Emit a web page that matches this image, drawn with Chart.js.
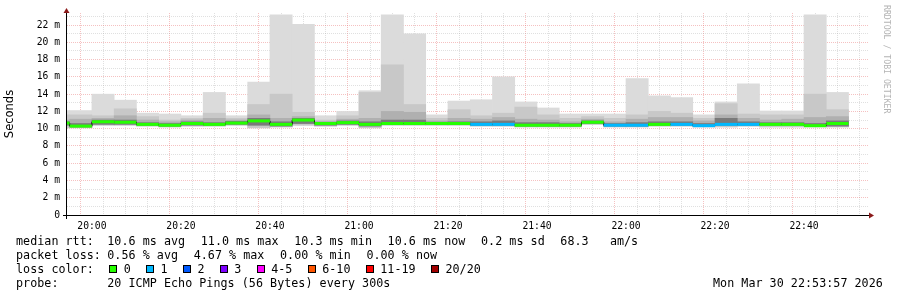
<!DOCTYPE html>
<html>
<head>
<meta charset="utf-8">
<script src="https://cdn.jsdelivr.net/npm/chart.js@4.4.1/dist/chart.umd.min.js"></script>
<style>
html, body { margin: 0; padding: 0; background: #fff; }
#wrap { position: relative; width: 897px; height: 297px; overflow: hidden; }
#c { position: absolute; left: 0; top: 0; }
.txt { position: absolute; font-family: "DejaVu Sans Mono", monospace; font-size: 11.7px; line-height: 14px; color: #000; letter-spacing: 0.04px; }
.txt span, .row { white-space: pre; }
#legend { left: 16px; top: 234px; width: 870px; }
#legend .row { position: relative; height: 14px; }
#legend .lab { position: absolute; left: 0; top: 0; }
#legend .vals { position: absolute; left: 91.3px; top: 0; }
#legend .vals span { margin-right: 15.6px; }
#stamp { left: 713px; top: 276px; white-space: pre; }
#mark { position: absolute; left: 882px; top: 5px; writing-mode: vertical-rl; font-family: "DejaVu Sans Mono", monospace; font-size: 8.2px; color: #b4b4b4; white-space: pre; }
.sw { display: inline-block; width: 8px; height: 8px; box-sizing: border-box; border: 1px solid #000; vertical-align: top; margin: 3px 6.6px 0 15.2px; }
</style>
</head>
<body>
<div id="wrap">
  <canvas id="c" width="897" height="297"></canvas>
  <div id="mark">RRDTOOL / TOBI OETIKER</div>
  <div id="legend" class="txt">
    <div class="row"><span class="lab">median rtt:</span><span class="vals"><span>10.6 ms avg</span><span>11.0 ms max</span><span>10.3 ms min</span><span>10.6 ms now</span><span>0.2 ms sd</span><span>68.3   am/s</span></span></div>
    <div class="row"><span class="lab">packet loss:</span><span class="vals"><span>0.56 % avg</span><span>4.67 % max</span><span>0.00 % min</span><span>0.00 % now</span></span></div>
    <div class="row" id="lossrow">loss color:</div>
    <div class="row"><span class="lab">probe:</span><span class="vals">20 ICMP Echo Pings (56 Bytes) every 300s</span></div>
  </div>
  <div id="stamp" class="txt">Mon Mar 30 22:53:57 2026</div>
</div>
<script>
// 5 minute slots (start time of each step)
const slotStart = ['19:50','19:55','20:00','20:05','20:10','20:15','20:20','20:25','20:30','20:35',
                   '20:40','20:45','20:50','20:55','21:00','21:05','21:10','21:15','21:20','21:25',
                   '21:30','21:35','21:40','21:45','21:50','21:55','22:00','22:05','22:10','22:15',
                   '22:20','22:25','22:30','22:35','22:40','22:45'];

// smoke (ms): outer max, upper layers, core, median, lower layers, min
const rttMax    = [12.1,12.1,14.0,13.3,11.8,11.7,11.5,14.2,11.5,15.4, 23.2,22.1,11.5,12.0,14.4,23.2,21.0,11.6,13.2,13.35,
                   16.0,13.1,12.4,11.7,11.7,11.7,15.8,13.8,13.6,11.6, 13.1,15.2,12.05,12.05,23.2,14.2];
const smokeHi2  = [11.6,11.6,11.5,12.3,11.4,11.0,11.2,11.8,11.2,12.8, 14.0,11.9,11.0,11.5,14.2,17.4,12.8,11.2,12.2,11.5,
                   11.8,12.5,11.6,11.2,11.4,11.2,11.6,12.0,11.8,11.2, 12.9,11.7,11.6,11.6,14.0,12.2];
const smokeHi3  = [11.0,11.1,11.2,11.5,11.0,10.8,11.0,11.2,11.0,11.6, 11.2,11.4,10.8,11.1,11.2,12.0,11.9,10.9,11.2,11.1,
                   11.3,11.1,11.0,10.8,11.1,10.8,11.1,11.3,11.3,10.9, 11.6,11.2,11.0,11.1,11.3,11.4];
const smokeCore = [10.8,10.6,11.0,11.0,10.7,10.6,10.8,10.7,10.85,11.2, 10.8,11.2,10.75,10.9,10.8,11.0,11.0,10.75,10.8,10.8,
                   10.9,10.7,10.7,10.6,10.9,10.6,10.7,10.8,10.8,10.6, 11.2,10.8,10.7,10.7,10.6,10.9];
const rttMedian = [10.65,10.3,10.8,10.75,10.5,10.4,10.6,10.5,10.65,10.9, 10.5,11.0,10.6,10.7,10.5,10.6,10.6,10.6,10.6,10.5,
                   10.5,10.4,10.4,10.4,10.75,10.4,10.4,10.5,10.5,10.35, 10.5,10.5,10.5,10.5,10.35,10.6];
const smokeLo   = [10.4,10.2,10.5,10.5,10.4,10.3,10.4,10.4,10.5,10.4, 10.3,10.6,10.4,10.5,10.3,10.5,10.5,10.5,10.5,10.4,
                   10.4,10.3,10.3,10.3,10.6,10.3,10.3,10.4,10.4,10.3, 10.4,10.4,10.4,10.4,10.3,10.3];
const rttMin    = [10.1,10.1,10.4,10.4,10.3,10.2,10.3,10.3,10.4,10.1, 10.2,10.4,10.3,10.4,10.1,10.4,10.4,10.4,10.4,10.3,
                   10.3,10.2,10.2,10.2,10.5,10.2,10.2,10.3,10.3,10.2, 10.2,10.3,10.2,10.2,10.2,10.2];
// index into lossLabels / lossColors
const lossBin   = [0,0,0,0,0,0,0,0,0,0, 0,0,0,0,0,0,0,0,0,1, 1,0,0,0,0,1,1,0,1,1, 1,1,0,0,0,0];

const lossLabels = ['0','1','2','3','4-5','6-10','11-19','20/20'];
const lossColors = ['#26ff00','#00b8ff','#0059ff','#7e00ff','#ff00ff','#ff5500','#ff0000','#a10000'];

const timeTicks = ['20:00','20:20','20:40','21:00','21:20','21:40','22:00','22:20','22:40'];
const yTickVals = [0,2,4,6,8,10,12,14,16,18,20,22];
const yTickLabels = ['0','2 m','4 m','6 m','8 m','10 m','12 m','14 m','16 m','18 m','20 m','22 m'];

const STEP = 5;
const X_MIN = -5.6, X_MAX = 174.6;   // minutes from 20:00
const Y_MAX = 23.4;
const MAJOR = 'rgba(230,100,100,0.4)';
const MINOR = 'rgba(160,160,160,0.32)';
const MONO = 'DejaVu Sans Mono';

function toMin(t) { const [h, m] = t.split(':').map(Number); return (h - 20) * 60 + m; }
const slotMid = slotStart.map(t => toMin(t) + STEP / 2);
const xGrid = slotStart.map(toMin).concat([toMin(slotStart[slotStart.length - 1]) + STEP])
  .filter(v => v >= X_MIN && v <= X_MAX);
const yGrid = Array.from({ length: 24 }, (_, i) => i);

// legend swatches
const row = document.getElementById('lossrow');
lossLabels.forEach((l, i) => {
  const s = document.createElement('span');
  s.className = 'sw';
  s.style.background = lossColors[i];
  if (i === 0) s.style.marginLeft = '15.3px';
  row.appendChild(s);
  row.appendChild(document.createTextNode(l));
});

function layer(lo, hi, color, order) {
  return {
    type: 'bar', data: slotMid.map((x, i) => ({ x, y: [lo[i], hi[i]] })),
    backgroundColor: color, borderWidth: 0, grouped: false,
    barPercentage: 1, categoryPercentage: 1, order, clip: 0
  };
}

function gridColor(every) {
  return c => (c.tick && c.tick.value % every === 0 ? MAJOR : MINOR);
}

const axisArrows = {
  id: 'axisArrows',
  afterDraw(chart) {
    const { ctx, chartArea: a } = chart;
    ctx.save();
    ctx.strokeStyle = '#000';
    ctx.lineWidth = 1;
    ctx.beginPath();
    ctx.moveTo(a.left - 4, a.bottom + 0.5); ctx.lineTo(a.right + 1, a.bottom + 0.5);
    ctx.moveTo(a.left - 0.5, a.bottom + 4); ctx.lineTo(a.left - 0.5, a.top - 1);
    ctx.stroke();
    ctx.fillStyle = '#8b1a1a';
    ctx.beginPath();
    ctx.moveTo(a.left - 3.5, a.top); ctx.lineTo(a.left + 2.5, a.top); ctx.lineTo(a.left - 0.5, a.top - 5);
    ctx.closePath(); ctx.fill();
    ctx.beginPath();
    ctx.moveTo(a.right, a.bottom - 2.5); ctx.lineTo(a.right, a.bottom + 3.5); ctx.lineTo(a.right + 5, a.bottom + 0.5);
    ctx.closePath(); ctx.fill();
    ctx.restore();
  }
};

const medPts = slotMid.map((x, i) => ({ x, y: rttMedian[i] }));

new Chart(document.getElementById('c'), {
  type: 'bar',
  data: {
    datasets: [
      {
        type: 'line', data: medPts, showLine: false, pointStyle: 'line',
        pointRadius: c => { const s = c.chart.scales.x; return s ? (s.getPixelForValue(STEP) - s.getPixelForValue(0)) / 2 : 11; },
        pointBorderWidth: 3, pointBorderColor: lossBin.map(b => lossColors[b]),
        pointHoverRadius: 0, order: 0, clip: 0
      },
      { type: 'line', data: medPts, borderColor: '#000', borderWidth: 1, stepped: 'middle', pointRadius: 0, order: 1, clip: 0 },
      layer(smokeLo, smokeCore, '#7a7a7a', 2),
      layer(smokeLo, smokeHi3, '#b0b0b0', 3),
      layer(rttMin, smokeHi2, '#c8c8c8', 4),
      layer(rttMin, rttMax, '#dbdbdb', 5)
    ]
  },
  options: {
    responsive: false,
    animation: false,
    layout: { padding: { left: 0, top: 13, right: 28, bottom: 0 } },
    plugins: { legend: { display: false }, tooltip: { enabled: false } },
    scales: {
      x: {
        type: 'linear', min: X_MIN, max: X_MAX, offset: false, z: 1,
        afterBuildTicks: s => { s.ticks = xGrid.map(v => ({ value: v })); },
        afterFit: s => { s.height = 82; },
        grid: { color: gridColor(20), drawTicks: false, borderDash: [1, 1] },
        border: { display: false, dash: [1, 1] },
        ticks: {
          autoSkip: false, maxRotation: 0, padding: 5.5, color: '#000',
          font: { family: MONO, size: 9.7 },
          callback: v => { const k = timeTicks.findIndex(t => toMin(t) === v); return k >= 0 ? timeTicks[k] : ''; }
        }
      },
      y: {
        min: 0, max: Y_MAX, z: 1,
        afterBuildTicks: s => { s.ticks = yGrid.map(v => ({ value: v })); },
        afterFit: s => { s.width = 67; },
        grid: { color: gridColor(2), drawTicks: false, borderDash: [1, 1] },
        border: { display: false, dash: [1, 1] },
        ticks: {
          autoSkip: false, padding: 7, color: '#000',
          font: { family: MONO, size: 9.7 },
          callback: v => { const k = yTickVals.indexOf(v); return k >= 0 ? yTickLabels[k] : ''; }
        },
        title: {
          display: true, text: 'Seconds', color: '#000',
          font: { family: 'DejaVu Sans', size: 11.5 }, padding: { top: 3.5, bottom: 0 }
        }
      }
    }
  },
  plugins: [axisArrows]
});
</script>
</body>
</html>
